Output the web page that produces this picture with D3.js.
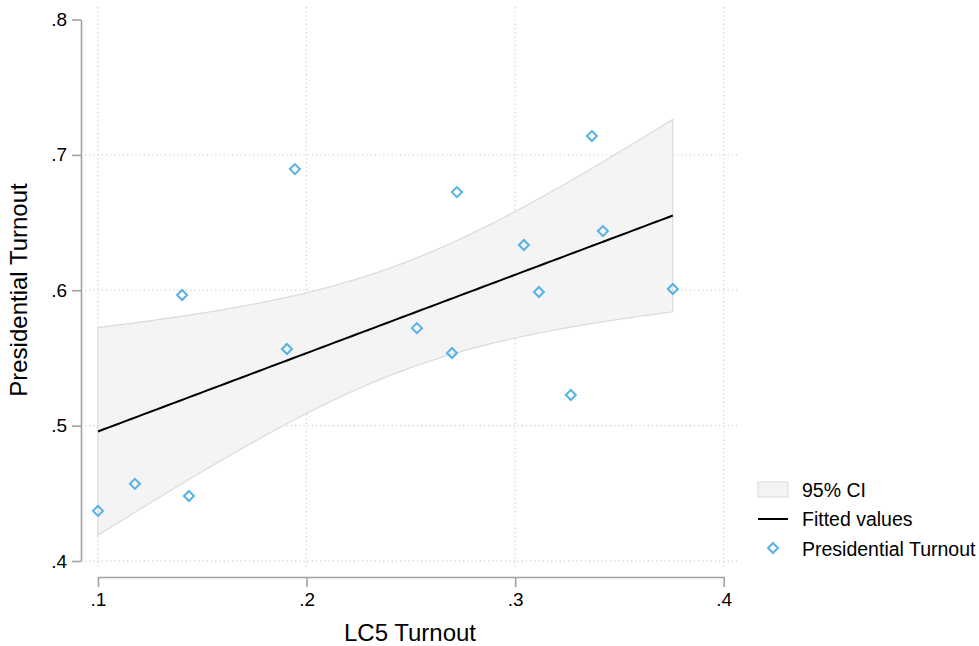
<!DOCTYPE html>
<html>
<head>
<meta charset="utf-8">
<script src="https://cdn.jsdelivr.net/npm/d3@7/dist/d3.min.js"></script>
<style>
  html, body { margin: 0; padding: 0; background: #fff; }
  svg { display: block; font-family: "Liberation Sans", Arial, Helvetica, sans-serif; }
</style>
</head>
<body>
<svg id="chart" width="979" height="646"></svg>
<script>
// LC5 turnout (x) and presidential turnout (y) per observation
const lc5Turnout = [0.100, 0.1177, 0.1436, 0.1403, 0.1906, 0.1944, 0.2529, 0.2697,
                    0.2721, 0.3042, 0.3114, 0.3267, 0.3368, 0.3421, 0.3756];
const presTurnout = [0.437, 0.457, 0.448, 0.5965, 0.5566, 0.6895, 0.572, 0.5536,
                     0.6725, 0.6334, 0.5987, 0.5226, 0.7139, 0.6437, 0.6009];

const xTicks = [0.1, 0.2, 0.3, 0.4];
const yTicks = [0.4, 0.5, 0.6, 0.7, 0.8];
const yGrid = [0.4, 0.5, 0.6, 0.7];
const legendLabels = ["95% CI", "Fitted values", "Presidential Turnout"];

const svg = d3.select("#chart");
const x = d3.scaleLinear().domain([0.1, 0.4]).range([98, 723.7]);
const y = d3.scaleLinear().domain([0.4, 0.8]).range([561, 19.5]);
const fmt = v => d3.format(".1f")(v).replace(/^0/, "");

// Linear fit with 95% confidence interval of the mean prediction
const n = lc5Turnout.length;
const mx = d3.mean(lc5Turnout), my = d3.mean(presTurnout);
let sxx = 0, sxy = 0, syy = 0;
for (let i = 0; i < n; i++) {
  const dx = lc5Turnout[i] - mx, dy = presTurnout[i] - my;
  sxx += dx * dx; sxy += dx * dy; syy += dy * dy;
}
const slope = sxy / sxx, intercept = my - slope * mx;
const s = Math.sqrt((syy - slope * sxy) / (n - 2));
const tCrit = 2.1604; // t(0.975, 13)
const [xMin, xMax] = d3.extent(lc5Turnout);
const fitPts = d3.range(0, 101).map(k => {
  const xv = xMin + (xMax - xMin) * k / 100;
  const yh = intercept + slope * xv;
  const hw = tCrit * s * Math.sqrt(1 / n + (xv - mx) ** 2 / sxx);
  return { x: xv, y: yh, lo: yh - hw, hi: yh + hw };
});

// Gridlines
const grid = svg.append("g").attr("stroke", "#c4c4c4").attr("stroke-width", 1)
  .attr("stroke-dasharray", "1.2,3");
grid.selectAll("line.h").data(yGrid).join("line").attr("class", "h")
  .attr("x1", 85).attr("x2", 737).attr("y1", d => y(d)).attr("y2", d => y(d));
grid.selectAll("line.v").data(xTicks).join("line").attr("class", "v")
  .attr("x1", d => x(d)).attr("x2", d => x(d)).attr("y1", 7).attr("y2", 569);

// Confidence band
svg.append("path").datum(fitPts)
  .attr("fill", "#f4f4f4").attr("stroke", "#dadada").attr("stroke-width", 1.2)
  .attr("d", d3.area().x(d => x(d.x)).y0(d => y(d.lo)).y1(d => y(d.hi)));

// Fitted line
svg.append("path").datum(fitPts)
  .attr("fill", "none").attr("stroke", "#000").attr("stroke-width", 2)
  .attr("d", d3.line().x(d => x(d.x)).y(d => y(d.y)));

// Diamond markers
const diamond = (cx, cy, r) => `M${cx},${cy - r}L${cx + r},${cy}L${cx},${cy + r}L${cx - r},${cy}Z`;
svg.append("g").selectAll("path").data(lc5Turnout).join("path")
  .attr("d", (d, i) => diamond(x(d), y(presTurnout[i]), 5))
  .attr("fill", "none").attr("stroke", "#55b1e6").attr("stroke-width", 2);

// Axes
const yAxis = svg.append("g").attr("transform", "translate(81,0)")
  .call(d3.axisLeft(y).tickValues(yTicks).tickFormat(fmt).tickSize(9).tickSizeOuter(0).tickPadding(5));
const xAxis = svg.append("g").attr("transform", "translate(0,577)")
  .call(d3.axisBottom(x).tickValues(xTicks).tickFormat(fmt).tickSize(10).tickSizeOuter(0).tickPadding(6));
[yAxis, xAxis].forEach(a => {
  a.select(".domain").attr("stroke", "#a0a0a0").attr("stroke-width", 1.6);
  a.selectAll(".tick line").attr("stroke", "#a0a0a0").attr("stroke-width", 1.6);
  a.selectAll(".tick text").attr("fill", "#000").attr("font-size", 19)
    .attr("font-family", "Liberation Sans, Arial, sans-serif");
});

// Axis titles
svg.append("text").attr("x", 410).attr("y", 641).attr("text-anchor", "middle")
  .attr("font-size", 24).text("LC5 Turnout");
svg.append("text").attr("transform", "translate(27,290) rotate(-90)")
  .attr("text-anchor", "middle").attr("font-size", 24).text("Presidential Turnout");

// Legend
const lg = svg.append("g");
lg.append("rect").attr("x", 758).attr("y", 482).attr("width", 30).attr("height", 15)
  .attr("fill", "#f4f4f4").attr("stroke", "#dadada").attr("stroke-width", 1);
lg.append("line").attr("x1", 758).attr("x2", 788).attr("y1", 519).attr("y2", 519)
  .attr("stroke", "#000").attr("stroke-width", 2);
lg.append("path").attr("d", diamond(773, 548, 5))
  .attr("fill", "none").attr("stroke", "#55b1e6").attr("stroke-width", 2);
lg.selectAll("text").data(legendLabels).join("text")
  .attr("x", 802).attr("y", (d, i) => 490 + i * 29.5).attr("dy", "0.35em")
  .attr("font-size", 19.5).text(d => d);
</script>
</body>
</html>
